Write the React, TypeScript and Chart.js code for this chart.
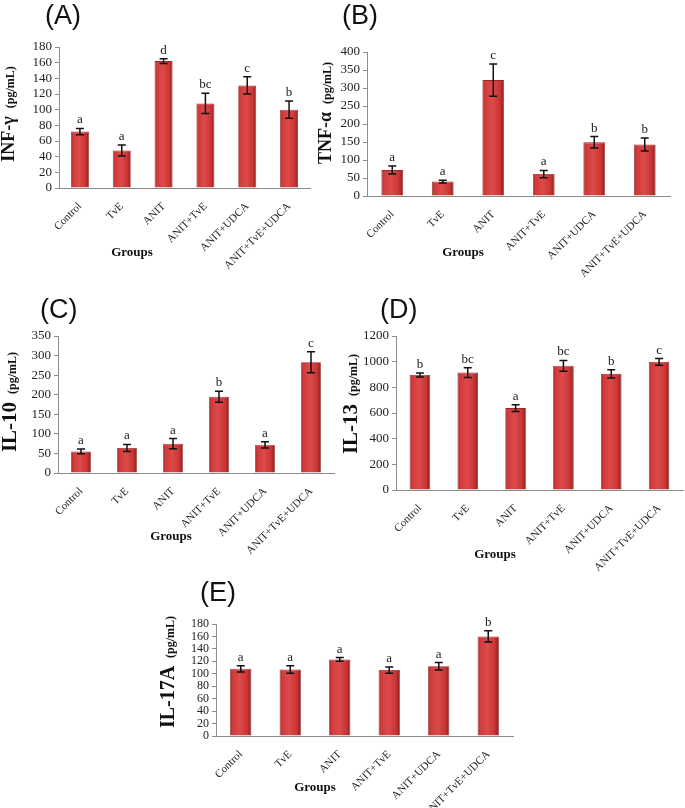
import React, { useEffect, useRef } from "react";
import { Chart, registerables } from "chart.js";

Chart.register(...registerables);

const groups = ["Control", "TvE", "ANIT", "ANIT+TvE", "ANIT+UDCA", "ANIT+TvE+UDCA"];

const infValues = [72, 48, 162, 108, 131, 100];
const infErrors = [4, 7, 3, 13, 11, 11];
const infLetters = ["a", "a", "d", "bc", "c", "b"];

const tnfValues = [72, 40, 322, 61, 149, 143];
const tnfErrors = [11, 4, 45, 10, 16, 18];
const tnfLetters = ["a", "a", "c", "a", "b", "b"];

const il10Values = [55, 64, 75, 195, 72, 283];
const il10Errors = [6, 9, 13, 14, 8, 27];
const il10Letters = ["a", "a", "a", "b", "a", "c"];

const il13Values = [896, 915, 638, 968, 905, 998];
const il13Errors = [16, 38, 26, 42, 32, 26];
const il13Letters = ["b", "bc", "a", "bc", "b", "c"];

const il17Values = [108, 107, 123, 106, 112, 160];
const il17Errors = [5, 6, 3, 5, 6, 9];
const il17Letters = ["a", "a", "a", "a", "a", "b"];

const W = 685;
const H = 808;
const SERIF = "'Liberation Serif', 'Times New Roman', serif";
const SANS = "'Liberation Sans', Arial, sans-serif";
const BAR_PCT = 0.43;

type Panel = {
  title: string;
  values: number[];
  errors: number[];
  letters: string[];
  max: number;
  step: number;
  yLabel: string;
  yLabelSize: number;
  left: number;
  top: number;
  bottom: number;
  right: number;
  titleX: number;
  titleY: number;
  yLabelX: number;
  yLabelY: number;
  groupsX: number;
  groupsY: number;
  tickSize: number;
};

const panels: Panel[] = [
  { title: "(A)", values: infValues, errors: infErrors, letters: infLetters, max: 180, step: 20, yLabel: "INF-γ", yLabelSize: 18,
    left: 59, top: 47, bottom: 188, right: 310, titleX: 45, titleY: 17, yLabelX: 14, yLabelY: 114, groupsX: 132, groupsY: 253, tickSize: 13 },
  { title: "(B)", values: tnfValues, errors: tnfErrors, letters: tnfLetters, max: 400, step: 50, yLabel: "TNF-α", yLabelSize: 18,
    left: 367, top: 52, bottom: 196, right: 670, titleX: 342, titleY: 17, yLabelX: 331, yLabelY: 113, groupsX: 463, groupsY: 253, tickSize: 13 },
  { title: "(C)", values: il10Values, errors: il10Errors, letters: il10Letters, max: 350, step: 50, yLabel: "IL-10", yLabelSize: 21,
    left: 58, top: 336, bottom: 473, right: 334, titleX: 40, titleY: 311, yLabelX: 16, yLabelY: 402, groupsX: 171, groupsY: 537, tickSize: 13 },
  { title: "(D)", values: il13Values, errors: il13Errors, letters: il13Letters, max: 1200, step: 200, yLabel: "IL-13", yLabelSize: 21,
    left: 396, top: 336, bottom: 490, right: 683, titleX: 380, titleY: 311, yLabelX: 357, yLabelY: 404, groupsX: 495, groupsY: 555, tickSize: 13 },
  { title: "(E)", values: il17Values, errors: il17Errors, letters: il17Letters, max: 180, step: 20, yLabel: "IL-17A", yLabelSize: 20,
    left: 216, top: 624, bottom: 736, right: 513, titleX: 200, titleY: 594, yLabelX: 174, yLabelY: 672, groupsX: 315, groupsY: 788, tickSize: 12 },
];

function barFill(c: any) {
  const chart = c.chart;
  const xs = chart.scales && chart.scales.x;
  if (!xs || c.type !== "data" || !isFinite(xs.width)) return "#D03C3C";
  const cx = xs.getPixelForValue(c.dataIndex);
  const w = (xs.width / groups.length) * BAR_PCT;
  const g = chart.ctx.createLinearGradient(cx - w / 2, 0, cx + w / 2, 0);
  g.addColorStop(0, "#A52828");
  g.addColorStop(0.12, "#CF3B3B");
  g.addColorStop(0.45, "#DE4A4A");
  g.addColorStop(0.8, "#CA3636");
  g.addColorStop(1, "#8C1E1E");
  return g;
}

function PanelChart({ p }: { p: Panel }) {
  const ref = useRef<HTMLCanvasElement | null>(null);
  useEffect(() => {
    if (!ref.current) return;
    const overlay = {
      id: "overlay",
      afterDatasetsDraw(chart: any) {
        const ctx = chart.ctx;
        const xs = chart.scales.x;
        const ys = chart.scales.y;
        ctx.save();
        ctx.strokeStyle = "#111";
        ctx.lineWidth = 1.5;
        ctx.fillStyle = "#1a1a1a";
        ctx.font = `13px ${SERIF}`;
        ctx.textAlign = "center";
        ctx.textBaseline = "alphabetic";
        p.values.forEach((v, i) => {
          const e = p.errors[i];
          const px = xs.getPixelForValue(i);
          const t = ys.getPixelForValue(v + e);
          const b = ys.getPixelForValue(v - e);
          ctx.beginPath();
          ctx.moveTo(px, t);
          ctx.lineTo(px, b);
          ctx.moveTo(px - 4, t);
          ctx.lineTo(px + 4, t);
          ctx.moveTo(px - 4, b);
          ctx.lineTo(px + 4, b);
          ctx.stroke();
          ctx.fillText(p.letters[i], px, t - 5);
        });
        ctx.restore();
      },
      afterDraw(chart: any) {
        const ctx = chart.ctx;
        ctx.save();
        ctx.fillStyle = "#111";
        ctx.font = `27px ${SANS}`;
        ctx.textAlign = "left";
        ctx.textBaseline = "middle";
        ctx.fillText(p.title, p.titleX, p.titleY);
        ctx.font = `bold 13px ${SERIF}`;
        ctx.textAlign = "center";
        ctx.fillText("Groups", p.groupsX, p.groupsY);
        const bigFont = `bold ${p.yLabelSize}px ${SERIF}`;
        const smallFont = `bold 12px ${SERIF}`;
        ctx.font = bigFont;
        const wb = ctx.measureText(p.yLabel).width;
        ctx.font = smallFont;
        const small = "(pg/mL)";
        const ws = ctx.measureText(small).width;
        const gap = 8;
        const total = wb + gap + ws;
        ctx.translate(p.yLabelX, p.yLabelY);
        ctx.rotate(-Math.PI / 2);
        ctx.textAlign = "left";
        ctx.textBaseline = "alphabetic";
        ctx.font = bigFont;
        ctx.fillText(p.yLabel, -total / 2, 0);
        ctx.font = smallFont;
        ctx.fillText(small, -total / 2 + wb + gap, 0);
        ctx.restore();
      },
    };
    const chart = new Chart(ref.current, {
      type: "bar",
      data: {
        labels: groups,
        datasets: [
          {
            data: p.values,
            backgroundColor: barFill as any,
            borderColor: "#9A2A2A",
            borderWidth: 0.8,
            barPercentage: BAR_PCT,
            categoryPercentage: 1,
          },
        ],
      },
      options: {
        responsive: false,
        animation: false,
        events: [],
        layout: {
          padding: { left: p.left - 40, top: p.top, right: W - p.right, bottom: 0 },
        },
        plugins: { legend: { display: false }, tooltip: { enabled: false }, title: { display: false } },
        scales: {
          x: {
            offset: true,
            grid: { display: false },
            border: { display: true, color: "#8c8c8c", width: 1 },
            ticks: {
              autoSkip: false,
              maxRotation: 45,
              minRotation: 45,
              padding: 4,
              color: "#222",
              font: { family: SERIF, size: 11 },
            },
            afterFit: (s: any) => {
              s.height = H - p.bottom;
            },
          },
          y: {
            min: 0,
            max: p.max,
            grid: { display: true, drawOnChartArea: false, drawTicks: true, tickLength: 4, color: "#8c8c8c" },
            border: { display: true, color: "#8c8c8c", width: 1 },
            ticks: {
              stepSize: p.step,
              autoSkip: false,
              padding: 3,
              color: "#222",
              font: { family: SERIF, size: p.tickSize },
              callback: (v: any) => String(v),
            },
            afterFit: (s: any) => {
              s.width = 40;
            },
          },
        },
      },
      plugins: [overlay],
    });
    return () => chart.destroy();
  }, [p]);
  return (
    <canvas
      ref={ref}
      width={W}
      height={H}
      style={{ position: "absolute", left: 0, top: 0, width: W, height: H }}
    />
  );
}

export default function App() {
  return (
    <div style={{ position: "absolute", left: 0, top: 0, width: W, height: H, background: "#fff", overflow: "hidden" }}>
      {panels.map((p) => (
        <PanelChart key={p.title} p={p} />
      ))}
    </div>
  );
}
